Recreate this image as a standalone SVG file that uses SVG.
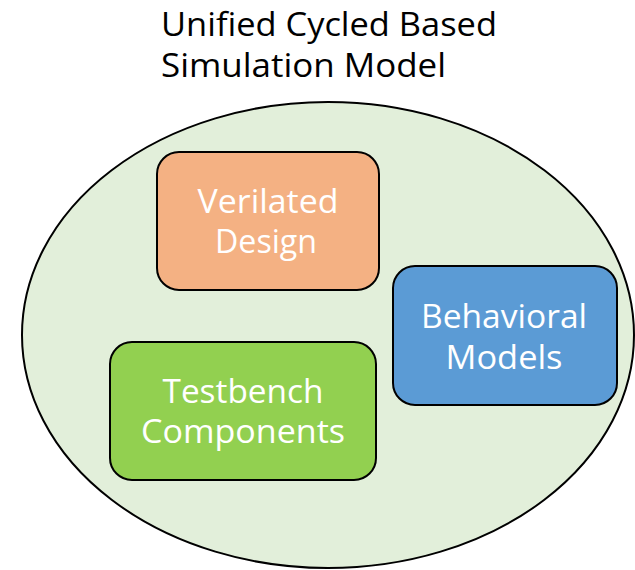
<svg xmlns="http://www.w3.org/2000/svg" width="635" height="570" viewBox="0 0 635 570">
<style>
.box{stroke:#000;stroke-width:2}
.lbl{font-family:"Open Sans","Noto Sans",sans-serif;font-size:32px;fill:#fff;text-anchor:middle}
.title{font-family:"Open Sans","Noto Sans",sans-serif;font-size:32px;fill:#000}
</style>
<rect width="635" height="570" fill="#fff"/>
<g id="container">
<ellipse cx="328" cy="335" rx="306" ry="233" fill="#E2EFDA" stroke="#000" stroke-width="2"/>
</g>
<g id="title">
<text class="title" x="161" y="36" textLength="336" lengthAdjust="spacingAndGlyphs">Unified Cycled Based</text>
<text class="title" x="161" y="77" textLength="285" lengthAdjust="spacingAndGlyphs">Simulation Model</text>
</g>
<g id="verilated-design">
<rect class="box" x="157" y="152" width="222" height="138" rx="22" fill="#F4B183"/>
<text class="lbl" x="268" y="213" textLength="141" lengthAdjust="spacingAndGlyphs">Verilated</text>
<text class="lbl" x="266" y="253" textLength="102" lengthAdjust="spacingAndGlyphs">Design</text>
</g>
<g id="behavioral-models">
<rect class="box" x="393" y="266" width="224" height="139" rx="22" fill="#5B9BD5"/>
<text class="lbl" x="504" y="328" textLength="166" lengthAdjust="spacingAndGlyphs">Behavioral</text>
<text class="lbl" x="504" y="369" textLength="117" lengthAdjust="spacingAndGlyphs">Models</text>
</g>
<g id="testbench-components">
<rect class="box" x="110" y="342" width="266" height="138" rx="22" fill="#92D050"/>
<text class="lbl" x="243" y="403" textLength="161" lengthAdjust="spacingAndGlyphs">Testbench</text>
<text class="lbl" x="243" y="443" textLength="204" lengthAdjust="spacingAndGlyphs">Components</text>
</g>
<g id="connectors"/>
</svg>
